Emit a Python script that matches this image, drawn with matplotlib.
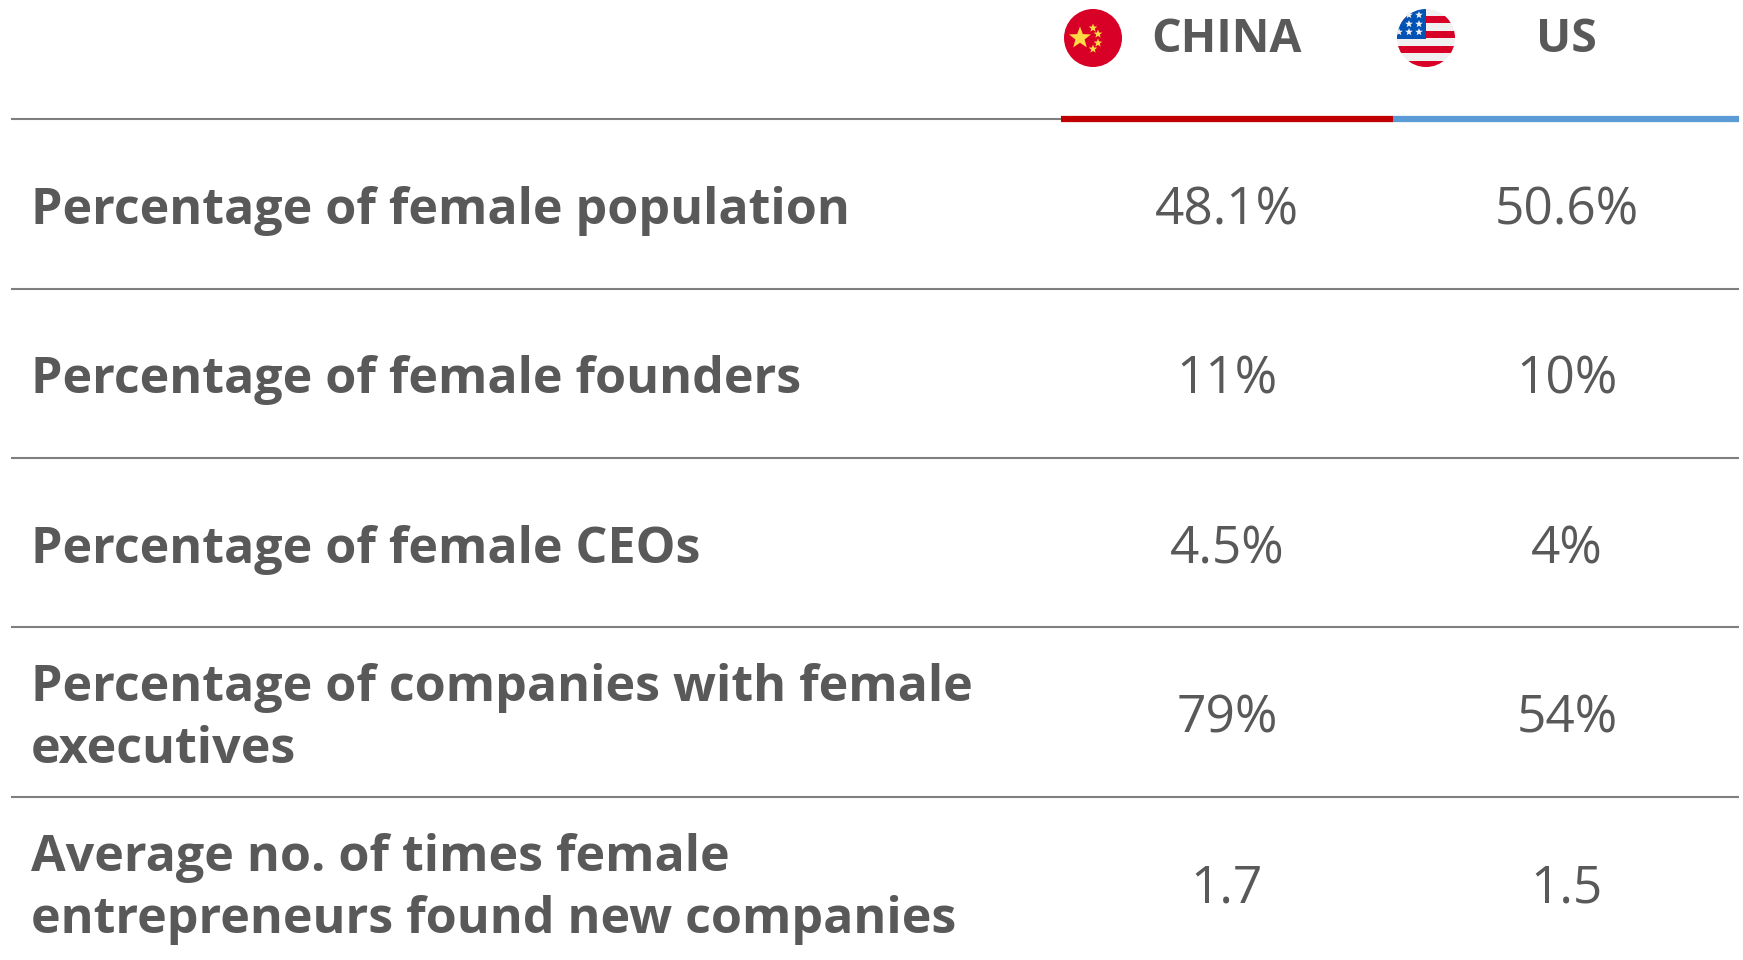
import matplotlib
matplotlib.use("Agg")
import numpy as np
import matplotlib.pyplot as plt
from matplotlib.patches import Circle, Rectangle

labels = ["Percentage of female population",
          "Percentage of female founders",
          "Percentage of female CEOs",
          "Percentage of companies with female\nexecutives",
          "Average no. of times female\nentrepreneurs found new companies"]
china = ["48.1%", "11%", "4.5%", "79%", "1.7"]
us = ["50.6%", "10%", "4%", "54%", "1.5"]
headers = ["CHINA", "US"]

plt.rcParams['font.family'] = ['Open Sans', 'DejaVu Sans']
GREY = '#595959'

fig = plt.figure(figsize=(17.43, 9.6), dpi=100)
ax = fig.add_axes([0, 0, 1, 1])
ax.set_xlim(0, 1743)
ax.set_ylim(960, 0)
ax.axis('off')

xchina = 1227
xus = 1567
rows = [211, 380, 550, 719, 889]
lines = [289, 458, 627, 797]


def star(x, y, r, color, zorder=4):
    ang = np.deg2rad(-90 + np.arange(10) * 36)
    rad = np.where(np.arange(10) % 2 == 0, r, r * 0.42)
    pts = np.column_stack([x + rad * np.cos(ang), y + rad * np.sin(ang)])
    ax.add_patch(plt.Polygon(pts, closed=True, fc=color, ec='none', zorder=zorder))


# header
ax.text(xchina, 40, headers[0], ha='center', va='center', fontsize=33.5, fontweight='bold', color=GREY)
ax.text(xus - 1, 40, headers[1], ha='center', va='center', fontsize=33.5, fontweight='bold', color=GREY)

# china flag
ax.add_patch(Circle((1093, 38), 29, fc='#D80027', ec='none', zorder=3))
star(1080, 38, 11.5, '#FFDA44')
star(1093, 28, 4.5, '#FFDA44')
star(1098, 34, 4.5, '#FFDA44')
star(1098, 43, 4.5, '#FFDA44')
star(1093, 49, 4.5, '#FFDA44')

# us flag
clip = Circle((1426, 38), 29, transform=ax.transData)
ax.add_patch(Circle((1426, 38), 29, fc='#F0F0F0', ec='none', zorder=3))
for y0, y1 in [(16, 23), (31, 38), (46, 53), (61, 68)]:
    r = Rectangle((1397, y0), 58, y1 - y0, fc='#D80027', ec='none', zorder=4)
    ax.add_patch(r)
    r.set_clip_path(clip)
r = Rectangle((1397, 9), 29, 30, fc='#0052B4', ec='none', zorder=5)
ax.add_patch(r)
r.set_clip_path(clip)
for sx, sy in [(1419, 15), (1419, 24), (1419, 32), (1409, 24), (1409, 32), (1399, 32), (1409, 15)]:
    star(sx, sy, 4, '#F0F0F0', zorder=6)

# rules
ax.plot([11, 1061], [119, 119], color='#7F7F7F', lw=1.5, solid_capstyle='butt')
ax.plot([1061, 1393], [119, 119], color='#C00000', lw=4.5, solid_capstyle='butt')
ax.plot([1393, 1739], [119, 119], color='#5B9BD5', lw=4.5, solid_capstyle='butt')
for y in lines:
    ax.plot([11, 1739], [y, y], color='#7F7F7F', lw=1.5, solid_capstyle='butt')

# rows
for i in range(len(labels)):
    ax.text(31, rows[i], labels[i], ha='left', va='center', fontsize=36.2, fontweight='bold',
            color=GREY, linespacing=1.34)
    ax.text(xchina, rows[i], china[i], ha='center', va='center', fontsize=37, color=GREY)
    ax.text(xus, rows[i], us[i], ha='center', va='center', fontsize=37, color=GREY)

fig.savefig("out.png", dpi=100)
